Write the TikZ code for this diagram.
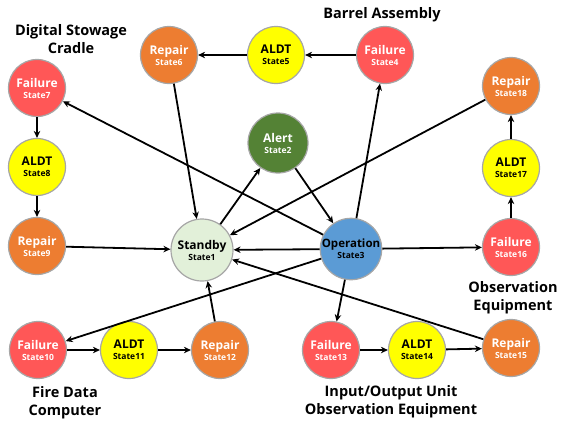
\documentclass[tikz,border=0pt]{standalone}
\usepackage{fontspec}
\setmainfont{Open Sans}
\usepackage{tikz}
\usetikzlibrary{arrows,arrows.meta,positioning}
\definecolor{failred}{HTML}{FF5757}
\definecolor{repairorange}{HTML}{ED7D31}
\definecolor{aldtyellow}{HTML}{FFFF00}
\definecolor{alertgreen}{HTML}{548235}
\definecolor{standbygreen}{HTML}{E2F0D9}
\definecolor{operblue}{HTML}{5B9BD5}
\definecolor{rimgray}{HTML}{A6A6A6}
\tikzstyle{state} = [circle, draw=rimgray, line width=1.2pt, minimum size=57pt, inner sep=0pt, align=center, font=\bfseries\fontsize{12}{13}\selectfont]
\tikzstyle{failure} = [state, fill=failred, text=white]
\tikzstyle{repair} = [state, fill=repairorange, text=white]
\tikzstyle{aldt} = [state, fill=aldtyellow, text=black]
\tikzstyle{arrow} = [line width=1.8pt, ->, >={Stealth[length=7pt,width=6.5pt]}]
\tikzstyle{group} = [align=center, font=\bfseries\fontsize{14.5}{18}\selectfont]
\newcommand{\stlabel}[2]{#1\\[-2pt]{\fontsize{8.5}{10}\selectfont #2}}

\begin{document}
\begin{tikzpicture}[x=1pt,y=-1pt]
\useasboundingbox (0,0) rectangle (569,424);

% main states
\node[state, fill=standbygreen, minimum size=62pt] (s1) at (202,250) {\stlabel{Standby}{State1}};
\node[state, fill=alertgreen, text=white, minimum size=60pt] (s2) at (278,143) {\stlabel{Alert}{State2}};
\node[state, fill=operblue, minimum size=61pt, font=\bfseries\fontsize{11.5}{13}\selectfont] (s3) at (351,249) {\stlabel{Operation}{State3}};

% barrel assembly
\node[failure] (s4) at (385,55) {\stlabel{Failure}{State4}};
\node[aldt] (s5) at (276,55) {\stlabel{ALDT}{State5}};
\node[repair] (s6) at (169,55) {\stlabel{Repair}{State6}};

% digital stowage cradle
\node[failure] (s7) at (37,88) {\stlabel{Failure}{State7}};
\node[aldt] (s8) at (37,167) {\stlabel{ALDT}{State8}};
\node[repair] (s9) at (37,246) {\stlabel{Repair}{State9}};

% fire data computer
\node[failure] (s10) at (38,350) {\stlabel{Failure}{State10}};
\node[aldt] (s11) at (129,350) {\stlabel{ALDT}{State11}};
\node[repair] (s12) at (220,350) {\stlabel{Repair}{State12}};

% input/output unit
\node[failure] (s13) at (331,350) {\stlabel{Failure}{State13}};
\node[aldt] (s14) at (417,350) {\stlabel{ALDT}{State14}};
\node[repair] (s15) at (511,348) {\stlabel{Repair}{State15}};

% observation equipment
\node[failure] (s16) at (511,247) {\stlabel{Failure}{State16}};
\node[aldt] (s17) at (511,168) {\stlabel{ALDT}{State17}};
\node[repair] (s18) at (511,86) {\stlabel{Repair}{State18}};

\node[group] (gcradle) at (71,39) {Digital Stowage\\Cradle};
\node[group] (gbarrel) at (382,15) {Barrel Assembly};
\node[group] (gobs) at (513,298) {Observation\\Equipment};
\node[group] (gfire) at (65,403) {Fire Data\\Computer};
\node[group] (gio) at (391,402) {Input/Output Unit\\Observation Equipment};

\draw[arrow] (s1) -- (s2);
\draw[arrow] (s2) -- (s3);
\draw[arrow] (s3) -- (s1);
\draw[arrow] (s3) -- (s4);
\draw[arrow] (s4) -- (s5);
\draw[arrow] (s5) -- (s6);
\draw[arrow] (s6) -- (s1);
\draw[arrow] (s3) -- (s7);
\draw[arrow] (s7) -- (s8);
\draw[arrow] (s8) -- (s9);
\draw[arrow] (s9) -- (s1);
\draw[arrow] (s3) -- (s10);
\draw[arrow] (s10) -- (s11);
\draw[arrow] (s11) -- (s12);
\draw[arrow] (s12) -- (s1);
\draw[arrow] (s3) -- (s13);
\draw[arrow] (s13) -- (s14);
\draw[arrow] (s14) -- (s15);
\draw[arrow] (s15) -- (s1);
\draw[arrow] (s3) -- (s16);
\draw[arrow] (s16) -- (s17);
\draw[arrow] (s17) -- (s18);
\draw[arrow] (s18) -- (s1);
\end{tikzpicture}
\end{document}
